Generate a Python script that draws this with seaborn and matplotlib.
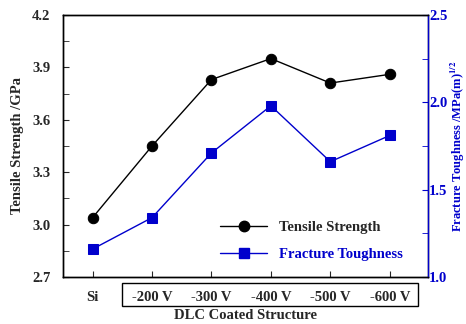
import numpy as np
import pandas as pd
import matplotlib.pyplot as plt
import seaborn as sns
from matplotlib.patches import Rectangle
from matplotlib.lines import Line2D
import matplotlib.transforms as mtransforms

categories = ["Si", "-200 V", "-300 V", "-400 V", "-500 V", "-600 V"]
tensile_strength = [3.04, 3.45, 3.83, 3.95, 3.81, 3.86]
fracture_toughness = [1.16, 1.34, 1.71, 1.98, 1.66, 1.81]

BLUE = "#0000cc"
FS = 10.5

sns.set_style("ticks")
plt.rcParams["font.family"] = ["Liberation Serif", "DejaVu Serif"]
plt.rcParams["font.weight"] = "bold"
plt.rcParams["mathtext.fontset"] = "stix"

df = pd.DataFrame({
    "pos": np.arange(len(categories)),
    "Tensile Strength": tensile_strength,
    "Fracture Toughness": fracture_toughness,
})

fig = plt.figure(figsize=(4.66, 3.24), dpi=100)
ax = fig.add_axes([0.135, 0.145, 0.783, 0.809])
ax2 = ax.twinx()

sns.lineplot(data=df, x="pos", y="Tensile Strength", ax=ax, color="black",
             marker="o", markersize=7.5, markeredgecolor="black", linewidth=1)
sns.lineplot(data=df, x="pos", y="Fracture Toughness", ax=ax2, color=BLUE,
             marker="s", markersize=7.5, markeredgecolor=BLUE, linewidth=1)

ax.set_xlim(-0.5, 5.64)
ax.set_ylim(2.7, 4.2)
ax.set_yticks(np.arange(2.7, 4.21, 0.3))
ax.set_yticks(np.arange(2.85, 4.2, 0.3), minor=True)
ax2.set_ylim(1.0, 2.5)
ax2.set_yticks([1.0, 1.5, 2.0, 2.5])
ax2.set_yticks([1.25, 1.75, 2.25], minor=True)

ax.set_xticks(df["pos"])
ax.set_xticklabels(categories, fontsize=FS, fontweight="bold")
ax.tick_params(axis="x", direction="in", length=4, pad=10)
ax.tick_params(axis="y", which="both", direction="in", length=4, labelsize=FS, pad=9)
ax.set_yticklabels([f"{v:.1f}" for v in ax.get_yticks()], fontweight="bold")

ax2.tick_params(axis="y", which="both", direction="in", length=4,
                colors=BLUE, labelsize=FS, pad=1)
ax2.set_yticklabels([f"{v:.1f}" for v in ax2.get_yticks()], fontweight="bold")

ax.set_xlabel("DLC Coated Structure", fontsize=FS, fontweight="bold", labelpad=4)
ax.set_ylabel("Tensile Strength /GPa", fontsize=FS, fontweight="bold", labelpad=6)
ax2.set_ylabel(r"Fracture Toughness /MPa(m)$^{\mathbf{1/2}}$", fontsize=9,
               fontweight="bold", color=BLUE, labelpad=1)

for a in (ax, ax2):
    for s in a.spines.values():
        s.set_linewidth(1)
        s.set_color("black")
ax2.spines["right"].set_color(BLUE)

# box around the DLC coated labels
trans = mtransforms.blended_transform_factory(ax.transData, ax.transAxes)
box = Rectangle((0.5, -0.112), 4.97, 0.089, transform=trans, fill=False,
                edgecolor="black", linewidth=1, clip_on=False)
ax.add_patch(box)

handles = [
    Line2D([], [], color="black", marker="o", markersize=7.5, linewidth=1),
    Line2D([], [], color=BLUE, marker="s", markersize=7.5, linewidth=1),
]
leg = ax2.legend(handles, ["Tensile Strength", "Fracture Toughness"],
                 loc="lower right", bbox_to_anchor=(0.967, 0.01), frameon=False,
                 prop={"size": FS, "weight": "bold"}, handlelength=3.2,
                 labelspacing=0.95, handletextpad=0.8)
leg.get_texts()[1].set_color(BLUE)

fig.savefig("out.png", dpi=100)
